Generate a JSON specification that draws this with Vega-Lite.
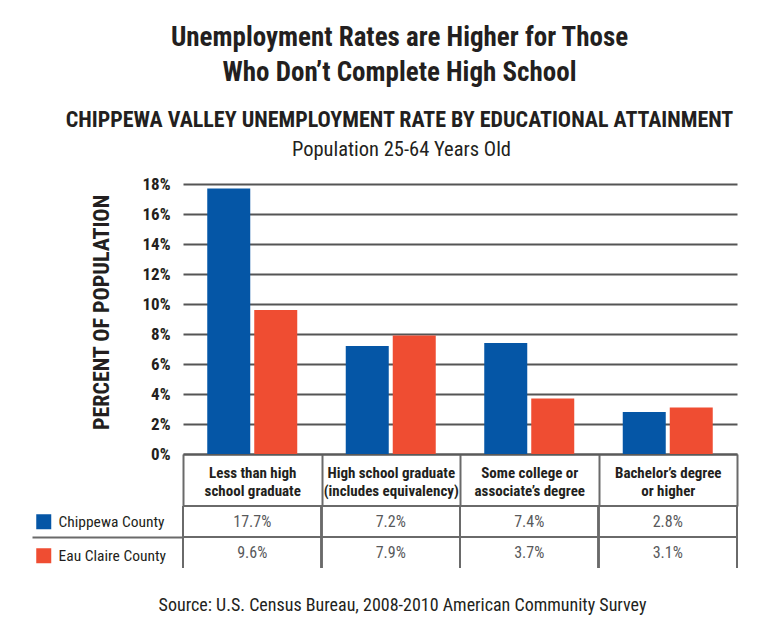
{
  "$schema": "https://vega.github.io/schema/vega-lite/v6.json",
  "background": "white",
  "padding": {"left": 31, "top": 23, "right": 5, "bottom": 5},
  "bounds": "flush",
  "spacing": 52,
  "config": {
    "font": "Roboto Condensed, Roboto, sans-serif",
    "view": {"stroke": null}
  },
  "title": {
    "text": ["Unemployment Rates are Higher for Those", "Who Don’t Complete High School"],
    "subtitle": "CHIPPEWA VALLEY UNEMPLOYMENT RATE BY EDUCATIONAL ATTAINMENT",
    "anchor": "middle",
    "frame": "bounds",
    "dx": 15,
    "fontSize": 27,
    "fontWeight": "bold",
    "lineHeight": 35,
    "color": "#231f20",
    "subtitleFontSize": 22,
    "subtitleFontWeight": "bold",
    "subtitleColor": "#231f20",
    "subtitlePadding": 23,
    "offset": 8
  },
  "datasets": {
    "rates": [
      {"category": "Less than high\nschool graduate", "county": "Chippewa County", "rate": 0.177},
      {"category": "Less than high\nschool graduate", "county": "Eau Claire County", "rate": 0.096},
      {"category": "High school graduate\n(includes equivalency)", "county": "Chippewa County", "rate": 0.072},
      {"category": "High school graduate\n(includes equivalency)", "county": "Eau Claire County", "rate": 0.079},
      {"category": "Some college or\nassociate’s degree", "county": "Chippewa County", "rate": 0.074},
      {"category": "Some college or\nassociate’s degree", "county": "Eau Claire County", "rate": 0.037},
      {"category": "Bachelor’s degree\nor higher", "county": "Chippewa County", "rate": 0.028},
      {"category": "Bachelor’s degree\nor higher", "county": "Eau Claire County", "rate": 0.031}
    ]
  },
  "vconcat": [
    {
      "width": 554,
      "height": 270,
      "title": {
        "text": "Population 25-64 Years Old",
        "anchor": "middle",
        "frame": "bounds",
        "dx": -13,
        "fontSize": 20.5,
        "fontWeight": "normal",
        "color": "#231f20",
        "offset": 15
      },
      "data": {"name": "rates"},
      "mark": {"type": "bar"},
      "encoding": {
        "x": {
          "field": "category",
          "type": "nominal",
          "sort": null,
          "scale": {"paddingInner": 0, "paddingOuter": 0},
          "axis": {
            "title": null,
            "orient": "bottom",
            "domain": true,
            "domainColor": "#5a5a5a",
            "domainWidth": 2,
            "ticks": true,
            "tickBand": "extent",
            "tickSize": 52,
            "tickColor": "#6a6a6a",
            "tickWidth": 2,
            "labelAngle": 0,
            "labelExpr": "split(datum.label, '\\n')",
            "labelFontSize": 15,
            "labelFontWeight": "bold",
            "labelColor": "#231f20",
            "labelPadding": -41,
            "labelBaseline": "top",
            "labelLineHeight": 18,
            "labelLimit": 0
          }
        },
        "xOffset": {
          "field": "county",
          "type": "nominal",
          "scale": {"paddingInner": 0.085, "paddingOuter": 0.516}
        },
        "y": {
          "field": "rate",
          "type": "quantitative",
          "scale": {"domain": [0, 0.18]},
          "axis": {
            "title": "PERCENT OF POPULATION",
            "values": [0, 0.02, 0.04, 0.06, 0.08, 0.1, 0.12, 0.14, 0.16, 0.18],
            "format": ".0%",
            "grid": true,
            "gridColor": "#555555",
            "gridWidth": 2,
            "domain": false,
            "ticks": false,
            "labelFontSize": 17,
            "labelFontWeight": "bold",
            "labelColor": "#231f20",
            "labelPadding": 13,
            "titleFontSize": 22,
            "titleFontWeight": "bold",
            "titleColor": "#231f20",
            "titlePadding": 28,
            "titleY": 128
          }
        },
        "color": {
          "field": "county",
          "type": "nominal",
          "scale": {"domain": ["Chippewa County", "Eau Claire County"], "range": ["#0556a6", "#ef4d32"]},
          "legend": {
            "orient": "none",
            "legendX": -147,
            "legendY": 330,
            "title": null,
            "symbolType": "square",
            "symbolSize": 225,
            "symbolStrokeWidth": 0,
            "symbolOpacity": 1,
            "labelFontSize": 15.5,
            "labelColor": "#231f20",
            "labelOffset": 7,
            "rowPadding": 17
          }
        }
      }
    },
    {
      "width": 554,
      "height": 62,
      "title": {
        "text": "Source: U.S. Census Bureau, 2008-2010 American Community Survey",
        "orient": "bottom",
        "anchor": "middle",
        "frame": "bounds",
        "dx": 18,
        "fontSize": 18,
        "fontWeight": "normal",
        "color": "#231f20",
        "offset": 28
      },
      "data": {"name": "rates"},
      "layer": [
        {
          "mark": {"type": "rule", "color": "#6a6a6a", "strokeWidth": 2},
          "encoding": {
            "x": {"field": "category", "type": "nominal", "sort": null, "bandPosition": 0,
                  "scale": {"paddingInner": 0, "paddingOuter": 0}, "axis": null}
          }
        },
        {
          "mark": {"type": "rule", "color": "#6a6a6a", "strokeWidth": 2},
          "encoding": {
            "x": {"field": "category", "type": "nominal", "sort": null, "bandPosition": 1, "axis": null}
          }
        },
        {
          "mark": {"type": "rule", "color": "#6a6a6a", "strokeWidth": 2},
          "encoding": {
            "y": {
              "field": "county",
              "type": "nominal",
              "bandPosition": 0,
              "scale": {"paddingInner": 0, "paddingOuter": 0},
              "axis": {
                "title": null,
                "labels": false,
                "domain": false,
                "ticks": true,
                "bandPosition": 0,
                "tickSize": 151,
                "tickWidth": 2,
                "tickColor": {"condition": {"test": "datum.value === 'Eau Claire County'", "value": "#6a6a6a"}, "value": "transparent"}
              }
            }
          }
        },
        {
          "mark": {"type": "text", "fontSize": 16, "color": "#58595b"},
          "encoding": {
            "x": {"field": "category", "type": "nominal", "sort": null, "axis": null},
            "y": {"field": "county", "type": "nominal"},
            "text": {"field": "rate", "type": "quantitative", "format": ".1%"}
          }
        }
      ]
    }
  ]
}
